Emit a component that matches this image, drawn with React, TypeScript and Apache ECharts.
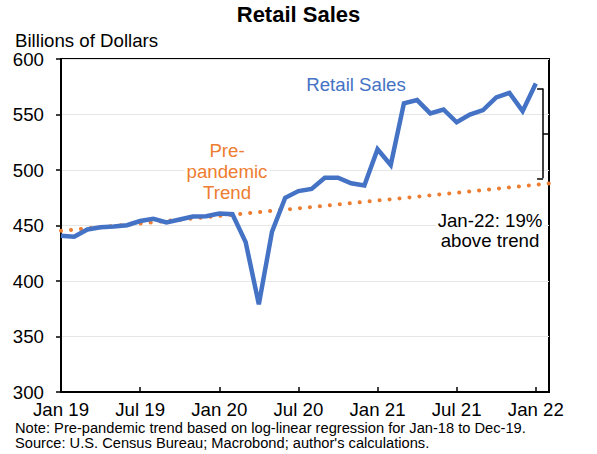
import { useEffect, useRef } from 'react';
import * as echarts from 'echarts';

// monthly retail sales, billions of dollars (Jan 19 .. Jan 22)
const months = [
  'Jan 19', 'Feb 19', 'Mar 19', 'Apr 19', 'May 19', 'Jun 19', 'Jul 19', 'Aug 19', 'Sep 19', 'Oct 19', 'Nov 19', 'Dec 19',
  'Jan 20', 'Feb 20', 'Mar 20', 'Apr 20', 'May 20', 'Jun 20', 'Jul 20', 'Aug 20', 'Sep 20', 'Oct 20', 'Nov 20', 'Dec 20',
  'Jan 21', 'Feb 21', 'Mar 21', 'Apr 21', 'May 21', 'Jun 21', 'Jul 21', 'Aug 21', 'Sep 21', 'Oct 21', 'Nov 21', 'Dec 21',
  'Jan 22',
];

const retailSales = [
  440.7, 439.8, 446.4, 448.5, 449.1, 450.3, 454.0, 456.0, 452.7, 455.4, 458.1, 458.4,
  460.8, 460.2, 435.0, 379.0, 444.5, 475.0, 481.0, 483.0, 493.0, 493.0, 488.0, 486.0,
  518.7, 504.5, 560.0, 563.0, 551.0, 554.5, 543.0, 550.0, 554.0, 565.4, 569.5, 553.0,
  578.0,
];

// pre-pandemic trend, runs one month past Jan 22 to the frame edge
const trend = [
  445.2, 446.3, 447.4, 448.5, 449.6, 450.7, 451.8, 452.9, 454.1, 455.2, 456.3, 457.5,
  458.6, 459.7, 460.9, 462.0, 463.2, 464.3, 465.5, 466.6, 467.8, 469.0, 470.1, 471.3,
  472.5, 473.6, 474.8, 476.0, 477.2, 478.4, 479.5, 480.7, 481.9, 483.1, 484.3, 485.5,
  486.7, 487.9,
];

const yTicks = [300, 350, 400, 450, 500, 550, 600];

// bracket between Jan 22 actual and trend
const bracketTop = 573.5;
const bracketBottom = 492.5;
const bracketMid = 533;

const FONT = '"Liberation Sans", Arial, sans-serif';
const BLUE = '#4472C4';
const ORANGE = '#ED7D31';

function App() {
  const chartRef = useRef<HTMLDivElement>(null);

  useEffect(() => {
    document.body.style.margin = '0';
    if (!chartRef.current) return;
    const chart = echarts.init(chartRef.current, null, { renderer: 'svg' });

    chart.setOption({
      animation: false,
      backgroundColor: '#fff',
      textStyle: { fontFamily: FONT },
      grid: {
        left: 61, right: 48, top: 59, bottom: 62,
        show: true, borderColor: '#000', borderWidth: 2, containLabel: false,
      },
      xAxis: {
        type: 'value',
        min: 0,
        max: 37,
        interval: 6,
        axisLine: { show: true, lineStyle: { color: '#000', width: 2 } },
        axisTick: { show: true, inside: true, length: 5, lineStyle: { color: '#000', width: 1.5 } },
        splitLine: { show: false },
        axisLabel: {
          color: '#000', fontSize: 18.67, fontFamily: FONT, margin: 8,
          showMaxLabel: false,
          formatter: (v: number) => (v % 6 === 0 && months[v] ? months[v] : ''),
        },
      },
      yAxis: {
        type: 'value',
        min: yTicks[0],
        max: yTicks[yTicks.length - 1],
        interval: 50,
        axisLine: { show: true, lineStyle: { color: '#000', width: 2 } },
        axisTick: { show: true, inside: false, length: 5, lineStyle: { color: '#000', width: 1.5 } },
        splitLine: { show: true, lineStyle: { color: '#e6e6e6', width: 1 } },
        axisLabel: { color: '#000', fontSize: 18.67, fontFamily: FONT, margin: 17 },
      },
      series: [
        {
          name: 'Pre-pandemic Trend',
          type: 'line',
          data: trend.map((v, i) => [i, v]),
          showSymbol: false,
          lineStyle: { color: ORANGE, width: 4, type: [0.1, 9.9], cap: 'round' },
          z: 2,
        },
        {
          name: 'Retail Sales',
          type: 'line',
          data: retailSales.map((v, i) => [i, v]),
          showSymbol: false,
          lineStyle: { color: BLUE, width: 4.5, join: 'miter' },
          z: 3,
          markLine: {
            silent: true,
            symbol: 'none',
            label: { show: false },
            lineStyle: { color: '#000', width: 1.5, type: 'solid' },
            data: [
              [{ coord: [36.55, bracketTop] }, { coord: [36.55, bracketBottom] }],
              [{ coord: [36.1, bracketTop] }, { coord: [36.55, bracketTop] }],
              [{ coord: [36.1, bracketBottom] }, { coord: [36.55, bracketBottom] }],
              [{ coord: [36.55, bracketMid] }, { coord: [37, bracketMid] }],
            ],
          },
        },
      ],
      graphic: [
        {
          type: 'text', left: 'center', top: 3,
          style: { text: 'Retail Sales', font: `bold 22px ${FONT}`, fill: '#000' },
        },
        {
          type: 'text', x: 15, y: 40,
          style: { text: 'Billions of Dollars', font: `18.67px ${FONT}`, fill: '#000', verticalAlign: 'middle' },
        },
        {
          type: 'text', x: 356, y: 84, z: 50,
          style: {
            text: 'Retail Sales', font: `18.67px ${FONT}`, fill: BLUE, align: 'center', verticalAlign: 'middle',
            backgroundColor: '#fff', padding: [0, 2],
          },
        },
        {
          type: 'text', x: 227, y: 171, z: 50,
          style: {
            text: 'Pre-\npandemic\nTrend', font: `18.67px ${FONT}`, fill: ORANGE,
            align: 'center', verticalAlign: 'middle', lineHeight: 21,
            backgroundColor: '#fff', padding: [0, 2],
          },
        },
        {
          type: 'text', x: 490, y: 230, z: 50,
          style: {
            text: 'Jan-22: 19%\nabove trend', font: `18.67px ${FONT}`, fill: '#000',
            align: 'center', verticalAlign: 'middle', lineHeight: 20,
            backgroundColor: '#fff', padding: [0, 2],
          },
        },
        {
          type: 'text', x: 15, y: 428,
          style: {
            text: 'Note: Pre-pandemic trend based on log-linear regression for Jan-18 to Dec-19.',
            font: `14.67px ${FONT}`, fill: '#000', verticalAlign: 'middle',
          },
        },
        {
          type: 'text', x: 15, y: 443,
          style: {
            text: "Source: U.S. Census Bureau; Macrobond; author's calculations.",
            font: `14.67px ${FONT}`, fill: '#000', verticalAlign: 'middle',
          },
        },
      ],
    });

    return () => {
      chart.dispose();
    };
  }, []);

  return <div ref={chartRef} style={{ width: 597, height: 454 }} />;
}

export default App;
